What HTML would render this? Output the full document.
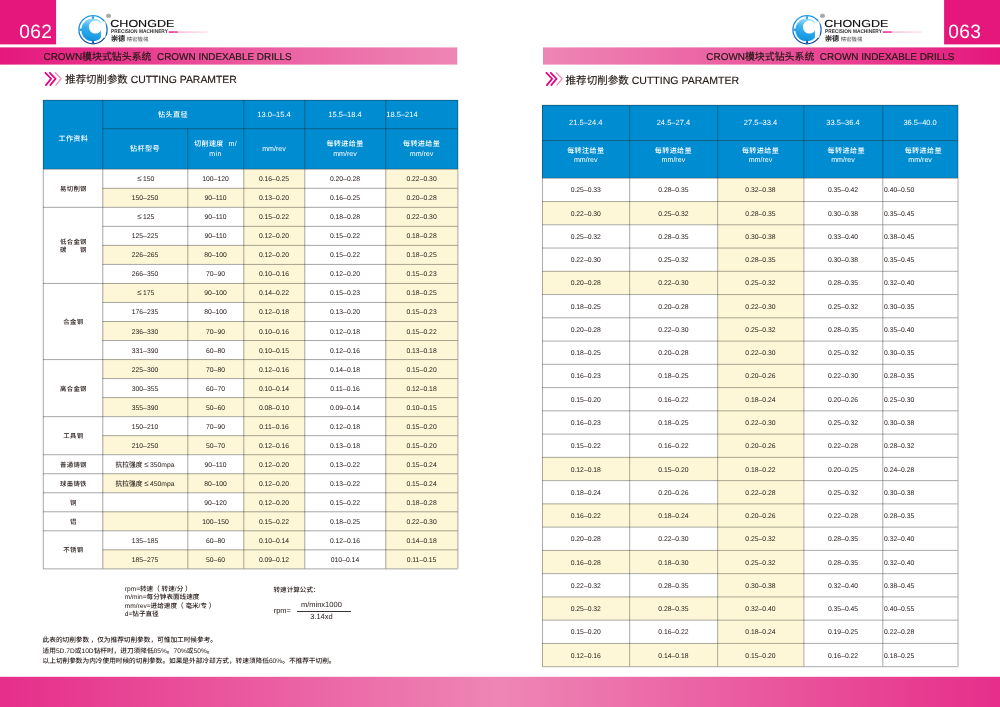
<!DOCTYPE html>
<html lang="zh-CN"><head><meta charset="utf-8"><title>CROWN模块式钻头系统 CROWN INDEXABLE DRILLS</title>
<style>

html,body{margin:0;padding:0;background:#fff;}
body{width:1000px;height:707px;overflow:hidden;position:relative;font-family:"Liberation Sans", "Noto Sans CJK SC", sans-serif;color:#231815;-webkit-text-size-adjust:none;text-rendering:geometricPrecision;}
.abs{position:absolute;}
.bg{z-index:0;pointer-events:none;}
.c{z-index:2;}
.pg{position:absolute;left:0;top:0;width:1000px;height:707px;overflow:hidden;}
.c{position:absolute;display:flex;align-items:center;justify-content:center;text-align:center;white-space:nowrap;box-sizing:border-box;}
.d{font-size:6.8px;line-height:8px;padding-top:3.6px;font-weight:500;}
.le{font-size:8px;line-height:6px;margin-right:1.4px;margin-left:1.6px;display:inline-block;transform:translateY(-1px);}
.h{font-size:7.1px;line-height:10px;color:#fff;}
.h b,.hb{font-weight:500;letter-spacing:0.35px;font-size:7.1px;}
.hn{font-size:7.5px;padding-top:1.6px;}
.hb{padding-top:1.6px;}
.m{font-size:6.4px;line-height:8.4px;font-weight:500;letter-spacing:0.3px;padding-top:3.8px;padding-left:1.3px;}
.ln{stroke:#222;stroke-width:0.4;}
.lr{stroke:#2a2a2a;stroke-width:0.4;}
.num{position:absolute;color:#fff;font-size:19.2px;line-height:20px;letter-spacing:0.4px;}
.band{-webkit-text-stroke:0.18px #231815;position:absolute;font-size:9.93px;line-height:12px;white-space:nowrap;color:#231815;}
.sub{-webkit-text-stroke:0.15px #231815;position:absolute;font-size:10.41px;line-height:12px;white-space:nowrap;color:#231815;}
.note{position:absolute;font-size:6.6px;line-height:8.15px;white-space:nowrap;font-weight:500;}
.foot{position:absolute;font-size:6.66px;line-height:10.4px;white-space:nowrap;font-weight:500;}
.fm{font-size:7.5px;}

</style></head><body><div class="pg">
<svg class="abs" style="left:0;top:0" width="1000" height="707" viewBox="0 0 1000 707"><defs><linearGradient id="gl" x1="0" x2="1"><stop offset="0" stop-color="#e5177d"/><stop offset="0.62" stop-color="#eb63a3"/><stop offset="1" stop-color="#ee86b5"/></linearGradient><linearGradient id="gr" x1="0" x2="1"><stop offset="0" stop-color="#ee86b5"/><stop offset="0.38" stop-color="#eb63a3"/><stop offset="1" stop-color="#e5177d"/></linearGradient><linearGradient id="gf" x1="0" x2="1"><stop offset="0" stop-color="#e62e8a"/><stop offset="0.5" stop-color="#ee86b5"/><stop offset="1" stop-color="#e62e8a"/></linearGradient></defs><rect x="0" y="0" width="56.1" height="44.4" fill="#e5177d"/><rect x="944.1" y="0" width="56" height="44.4" fill="#e5177d"/><rect x="0" y="47.4" width="457.2" height="17.2" fill="url(#gl)"/><rect x="543" y="47.4" width="457" height="17.2" fill="url(#gr)"/><rect x="0" y="676.8" width="1000" height="31" fill="url(#gf)"/></svg>
<div class="num" style="left:19.2px;top:22.6px;">062</div>
<div class="num" style="left:948.2px;top:22.6px;">063</div>
<div class="band" style="left:43.5px;top:51.7px;">CROWN模块式钻头系统&nbsp; CROWN INDEXABLE DRILLS</div>
<div class="band" style="right:45.6px;top:51.7px;">CROWN模块式钻头系统&nbsp; CROWN INDEXABLE DRILLS</div>
<svg class="abs" style="left:42px;top:68px" width="24" height="22" viewBox="42 68 24 22"><path d="M45.4 72.8 L51.1 78.7 L45.9 85.1" fill="none" stroke="#e4007f" stroke-width="1.75" stroke-linecap="round"/><path d="M49.8 72.8 L55.5 78.7 L50.3 85.1" fill="none" stroke="#e4007f" stroke-width="1.75" stroke-linecap="round"/><path d="M55.4 72.8 L61.1 78.7 L55.9 85.1" fill="none" stroke="#f092bd" stroke-width="1.35" stroke-linecap="round"/></svg>
<svg class="abs" style="left:542.6px;top:68px" width="24" height="22" viewBox="42 68 24 22"><path d="M45.4 72.8 L51.1 78.7 L45.9 85.1" fill="none" stroke="#e4007f" stroke-width="1.75" stroke-linecap="round"/><path d="M49.8 72.8 L55.5 78.7 L50.3 85.1" fill="none" stroke="#e4007f" stroke-width="1.75" stroke-linecap="round"/><path d="M55.4 72.8 L61.1 78.7 L55.9 85.1" fill="none" stroke="#f092bd" stroke-width="1.35" stroke-linecap="round"/></svg>
<div class="sub" style="left:65.3px;top:74.9px;">推荐切削参数 CUTTING PARAMTER</div>
<div class="sub" style="left:565.6px;top:74.9px;font-size:10.54px;">推荐切削参数 CUTTING PARAMTER</div>
<svg class="abs" style="left:70px;top:0px" width="150" height="47" viewBox="70 0 150 47"><defs><linearGradient id="rga" x1="0" y1="0" x2="0.3" y2="1"><stop offset="0" stop-color="#2aa4ea"/><stop offset="0.55" stop-color="#0d7fd2"/><stop offset="1" stop-color="#0b459c"/></linearGradient><linearGradient id="cga" x1="0.6" y1="0" x2="0.4" y2="1"><stop offset="0" stop-color="#a6e0fa"/><stop offset="0.4" stop-color="#3cb2ee"/><stop offset="1" stop-color="#0a92de"/></linearGradient><linearGradient id="pla" x1="0" x2="1"><stop offset="0" stop-color="#ee7fb4"/><stop offset="1" stop-color="#f9d3e5"/></linearGradient></defs><circle cx="93" cy="29.7" r="14.1" fill="none" stroke="url(#rga)" stroke-width="1.25"/><circle cx="92.6" cy="29.9" r="11.3" fill="url(#cga)"/><path d="M100.9 21.5 H105.5 V37.6 H100.9 Z" fill="#fff"/><circle cx="95.4" cy="27.1" r="6.5" fill="#fff"/><path d="M91.6 16.2 L94.4 16.2 L93.6 19.2 L92.4 19.2 Z" fill="#2aa4ea"/><path d="M79.6 28.4 L79.6 31 L82.4 30.2 L82.4 29.2 Z" fill="#1c8fde"/><path d="M91.9 43.2 L94.3 43.2 L93.7 40.6 L92.5 40.6 Z" fill="#0b52aa"/><text x="106.2" y="17.8" font-family='"Liberation Sans", sans-serif' font-size="6.2" font-weight="bold" fill="#333">®</text><text x="110.3" y="27.1" font-family='"Liberation Sans", sans-serif' font-size="10.2" fill="#111" stroke="#111" stroke-width="0.15" textLength="64" lengthAdjust="spacingAndGlyphs">CHONGDE</text><text x="111.1" y="33.1" font-family='"Liberation Sans", sans-serif' font-size="5.4" font-weight="bold" fill="#333" textLength="56.8" lengthAdjust="spacingAndGlyphs">PRECISION MACHINERY</text><rect x="168.7" y="31.4" width="9" height="1.3" fill="#e4007f"/><rect x="173.6" y="31.4" width="1.6" height="1.3" fill="#f08cba"/><rect x="177.7" y="31.65" width="30.8" height="0.8" fill="url(#pla)"/><text x="110.9" y="41.2" font-family='"Liberation Sans", "Noto Sans CJK SC", sans-serif' font-size="7.1" font-weight="bold" fill="#222">崇德</text><text x="126.8" y="40.9" font-family='"Liberation Sans", "Noto Sans CJK SC", sans-serif' font-size="5.3" fill="#555" textLength="21.5" lengthAdjust="spacingAndGlyphs">精密機械</text></svg>
<svg class="abs" style="left:783.5px;top:0px" width="150" height="47" viewBox="70 0 150 47"><defs><linearGradient id="rgb" x1="0" y1="0" x2="0.3" y2="1"><stop offset="0" stop-color="#2aa4ea"/><stop offset="0.55" stop-color="#0d7fd2"/><stop offset="1" stop-color="#0b459c"/></linearGradient><linearGradient id="cgb" x1="0.6" y1="0" x2="0.4" y2="1"><stop offset="0" stop-color="#a6e0fa"/><stop offset="0.4" stop-color="#3cb2ee"/><stop offset="1" stop-color="#0a92de"/></linearGradient><linearGradient id="plb" x1="0" x2="1"><stop offset="0" stop-color="#ee7fb4"/><stop offset="1" stop-color="#f9d3e5"/></linearGradient></defs><circle cx="93" cy="29.7" r="14.1" fill="none" stroke="url(#rgb)" stroke-width="1.25"/><circle cx="92.6" cy="29.9" r="11.3" fill="url(#cgb)"/><path d="M100.9 21.5 H105.5 V37.6 H100.9 Z" fill="#fff"/><circle cx="95.4" cy="27.1" r="6.5" fill="#fff"/><path d="M91.6 16.2 L94.4 16.2 L93.6 19.2 L92.4 19.2 Z" fill="#2aa4ea"/><path d="M79.6 28.4 L79.6 31 L82.4 30.2 L82.4 29.2 Z" fill="#1c8fde"/><path d="M91.9 43.2 L94.3 43.2 L93.7 40.6 L92.5 40.6 Z" fill="#0b52aa"/><text x="106.2" y="17.8" font-family='"Liberation Sans", sans-serif' font-size="6.2" font-weight="bold" fill="#333">®</text><text x="110.3" y="27.1" font-family='"Liberation Sans", sans-serif' font-size="10.2" fill="#111" stroke="#111" stroke-width="0.15" textLength="64" lengthAdjust="spacingAndGlyphs">CHONGDE</text><text x="111.1" y="33.1" font-family='"Liberation Sans", sans-serif' font-size="5.4" font-weight="bold" fill="#333" textLength="56.8" lengthAdjust="spacingAndGlyphs">PRECISION MACHINERY</text><rect x="168.7" y="31.4" width="9" height="1.3" fill="#e4007f"/><rect x="173.6" y="31.4" width="1.6" height="1.3" fill="#f08cba"/><rect x="177.7" y="31.65" width="30.8" height="0.8" fill="url(#plb)"/><text x="110.9" y="41.2" font-family='"Liberation Sans", "Noto Sans CJK SC", sans-serif' font-size="7.1" font-weight="bold" fill="#222">崇德</text><text x="126.8" y="40.9" font-family='"Liberation Sans", "Noto Sans CJK SC", sans-serif' font-size="5.3" fill="#555" textLength="21.5" lengthAdjust="spacingAndGlyphs">精密機械</text></svg>
<svg class="abs" style="left:0;top:0" width="1000" height="707" viewBox="0 0 1000 707"><rect x="243.50" y="169.00" width="61.00" height="399.60" fill="#fef7d7"/><rect x="385.50" y="169.00" width="72.10" height="399.60" fill="#fef7d7"/><rect x="102.50" y="188.03" width="141.00" height="19.03" fill="#fef7d7"/><rect x="102.50" y="245.11" width="141.00" height="19.03" fill="#fef7d7"/><rect x="102.50" y="283.17" width="141.00" height="19.03" fill="#fef7d7"/><rect x="102.50" y="321.23" width="141.00" height="19.03" fill="#fef7d7"/><rect x="102.50" y="359.29" width="141.00" height="19.03" fill="#fef7d7"/><rect x="102.50" y="397.34" width="141.00" height="19.03" fill="#fef7d7"/><rect x="102.50" y="435.40" width="141.00" height="19.03" fill="#fef7d7"/><rect x="102.50" y="473.46" width="141.00" height="19.03" fill="#fef7d7"/><rect x="102.50" y="511.51" width="141.00" height="19.03" fill="#fef7d7"/><rect x="102.50" y="549.57" width="141.00" height="19.03" fill="#fef7d7"/><rect x="717.40" y="178.00" width="86.20" height="488.40" fill="#fef7d7"/><rect x="542.20" y="201.26" width="175.20" height="23.26" fill="#fef7d7"/><rect x="542.20" y="271.03" width="175.20" height="23.26" fill="#fef7d7"/><rect x="542.20" y="457.09" width="175.20" height="23.26" fill="#fef7d7"/><rect x="542.20" y="503.60" width="175.20" height="23.26" fill="#fef7d7"/><rect x="542.20" y="550.11" width="175.20" height="23.26" fill="#fef7d7"/><rect x="542.20" y="596.63" width="175.20" height="23.26" fill="#fef7d7"/><rect x="542.20" y="643.14" width="175.20" height="23.26" fill="#fef7d7"/></svg>
<div class="abs" style="left:43px;top:100px;width:414.6px;height:69px;background:#008cd0"></div>
<div class="c h hb" style="left:43.00px;top:100.00px;width:59.50px;height:69.00px;padding-top:9.6px;padding-left:1.2px;">工作资料</div>
<div class="c h hb" style="left:102.50px;top:100.00px;width:141.00px;height:28.40px;">钻头直径</div>
<div class="c h hn" style="left:243.50px;top:100.00px;width:61.00px;height:28.40px;">13.0–15.4</div>
<div class="c h hn" style="left:304.50px;top:100.00px;width:81.00px;height:28.40px;">15.5–18.4</div>
<div class="c h hn" style="left:385.50px;top:100.00px;width:72.10px;height:28.40px;justify-content:flex-start;padding-left:0.8px;">18.5–214</div>
<div class="c h hb" style="left:102.50px;top:128.40px;width:85.00px;height:40.60px;">钻杆型号</div>
<div class="c h hb" style="left:187.50px;top:128.40px;width:56.00px;height:40.60px;">切削速度&nbsp; m/<br>min</div>
<div class="c h" style="left:243.50px;top:128.40px;width:61.00px;height:40.60px;">mm/rev</div>
<div class="c h" style="left:304.50px;top:128.40px;width:81.00px;height:40.60px;padding-top:1.2px;"><span><b>每转进给量</b><br>mm/rev</span></div>
<div class="c h" style="left:385.50px;top:128.40px;width:72.10px;height:40.60px;padding-top:1.2px;"><span><b>每转进给量</b><br>mm/rev</span></div>
<div class="c m" style="left:43.00px;top:169.00px;width:59.50px;height:38.06px;">易切削钢</div>
<div class="c d" style="left:102.50px;top:169.00px;width:85.00px;height:19.03px;"><span class="le">≤</span>150</div>
<div class="c d" style="left:187.50px;top:169.00px;width:56.00px;height:19.03px;">100–120</div>
<div class="c d" style="left:243.50px;top:169.00px;width:61.00px;height:19.03px;">0.16–0.25</div>
<div class="c d" style="left:304.50px;top:169.00px;width:81.00px;height:19.03px;">0.20–0.28</div>
<div class="c d" style="left:385.50px;top:169.00px;width:72.10px;height:19.03px;">0.22–0.30</div>
<div class="c d" style="left:102.50px;top:188.03px;width:85.00px;height:19.03px;">150–250</div>
<div class="c d" style="left:187.50px;top:188.03px;width:56.00px;height:19.03px;">90–110</div>
<div class="c d" style="left:243.50px;top:188.03px;width:61.00px;height:19.03px;">0.13–0.20</div>
<div class="c d" style="left:304.50px;top:188.03px;width:81.00px;height:19.03px;">0.16–0.25</div>
<div class="c d" style="left:385.50px;top:188.03px;width:72.10px;height:19.03px;">0.20–0.28</div>
<div class="c m" style="left:43.00px;top:207.06px;width:59.50px;height:76.11px;">低合金钢<br>碳&emsp;&emsp;钢</div>
<div class="c d" style="left:102.50px;top:207.06px;width:85.00px;height:19.03px;"><span class="le">≤</span>125</div>
<div class="c d" style="left:187.50px;top:207.06px;width:56.00px;height:19.03px;">90–110</div>
<div class="c d" style="left:243.50px;top:207.06px;width:61.00px;height:19.03px;">0.15–0.22</div>
<div class="c d" style="left:304.50px;top:207.06px;width:81.00px;height:19.03px;">0.18–0.28</div>
<div class="c d" style="left:385.50px;top:207.06px;width:72.10px;height:19.03px;">0.22–0.30</div>
<div class="c d" style="left:102.50px;top:226.09px;width:85.00px;height:19.03px;">125–225</div>
<div class="c d" style="left:187.50px;top:226.09px;width:56.00px;height:19.03px;">90–110</div>
<div class="c d" style="left:243.50px;top:226.09px;width:61.00px;height:19.03px;">0.12–0.20</div>
<div class="c d" style="left:304.50px;top:226.09px;width:81.00px;height:19.03px;">0.15–0.22</div>
<div class="c d" style="left:385.50px;top:226.09px;width:72.10px;height:19.03px;">0.18–0.28</div>
<div class="c d" style="left:102.50px;top:245.11px;width:85.00px;height:19.03px;">226–265</div>
<div class="c d" style="left:187.50px;top:245.11px;width:56.00px;height:19.03px;">80–100</div>
<div class="c d" style="left:243.50px;top:245.11px;width:61.00px;height:19.03px;">0.12–0.20</div>
<div class="c d" style="left:304.50px;top:245.11px;width:81.00px;height:19.03px;">0.15–0.22</div>
<div class="c d" style="left:385.50px;top:245.11px;width:72.10px;height:19.03px;">0.18–0.25</div>
<div class="c d" style="left:102.50px;top:264.14px;width:85.00px;height:19.03px;">266–350</div>
<div class="c d" style="left:187.50px;top:264.14px;width:56.00px;height:19.03px;">70–90</div>
<div class="c d" style="left:243.50px;top:264.14px;width:61.00px;height:19.03px;">0.10–0.16</div>
<div class="c d" style="left:304.50px;top:264.14px;width:81.00px;height:19.03px;">0.12–0.20</div>
<div class="c d" style="left:385.50px;top:264.14px;width:72.10px;height:19.03px;">0.15–0.23</div>
<div class="c m" style="left:43.00px;top:283.17px;width:59.50px;height:76.11px;">合金钢</div>
<div class="c d" style="left:102.50px;top:283.17px;width:85.00px;height:19.03px;"><span class="le">≤</span>175</div>
<div class="c d" style="left:187.50px;top:283.17px;width:56.00px;height:19.03px;">90–100</div>
<div class="c d" style="left:243.50px;top:283.17px;width:61.00px;height:19.03px;">0.14–0.22</div>
<div class="c d" style="left:304.50px;top:283.17px;width:81.00px;height:19.03px;">0.15–0.23</div>
<div class="c d" style="left:385.50px;top:283.17px;width:72.10px;height:19.03px;">0.18–0.25</div>
<div class="c d" style="left:102.50px;top:302.20px;width:85.00px;height:19.03px;">176–235</div>
<div class="c d" style="left:187.50px;top:302.20px;width:56.00px;height:19.03px;">80–100</div>
<div class="c d" style="left:243.50px;top:302.20px;width:61.00px;height:19.03px;">0.12–0.18</div>
<div class="c d" style="left:304.50px;top:302.20px;width:81.00px;height:19.03px;">0.13–0.20</div>
<div class="c d" style="left:385.50px;top:302.20px;width:72.10px;height:19.03px;">0.15–0.23</div>
<div class="c d" style="left:102.50px;top:321.23px;width:85.00px;height:19.03px;">236–330</div>
<div class="c d" style="left:187.50px;top:321.23px;width:56.00px;height:19.03px;">70–90</div>
<div class="c d" style="left:243.50px;top:321.23px;width:61.00px;height:19.03px;">0.10–0.16</div>
<div class="c d" style="left:304.50px;top:321.23px;width:81.00px;height:19.03px;">0.12–0.18</div>
<div class="c d" style="left:385.50px;top:321.23px;width:72.10px;height:19.03px;">0.15–0.22</div>
<div class="c d" style="left:102.50px;top:340.26px;width:85.00px;height:19.03px;">331–390</div>
<div class="c d" style="left:187.50px;top:340.26px;width:56.00px;height:19.03px;">60–80</div>
<div class="c d" style="left:243.50px;top:340.26px;width:61.00px;height:19.03px;">0.10–0.15</div>
<div class="c d" style="left:304.50px;top:340.26px;width:81.00px;height:19.03px;">0.12–0.16</div>
<div class="c d" style="left:385.50px;top:340.26px;width:72.10px;height:19.03px;">0.13–0.18</div>
<div class="c m" style="left:43.00px;top:359.29px;width:59.50px;height:57.09px;">高合金钢</div>
<div class="c d" style="left:102.50px;top:359.29px;width:85.00px;height:19.03px;">225–300</div>
<div class="c d" style="left:187.50px;top:359.29px;width:56.00px;height:19.03px;">70–80</div>
<div class="c d" style="left:243.50px;top:359.29px;width:61.00px;height:19.03px;">0.12–0.16</div>
<div class="c d" style="left:304.50px;top:359.29px;width:81.00px;height:19.03px;">0.14–0.18</div>
<div class="c d" style="left:385.50px;top:359.29px;width:72.10px;height:19.03px;">0.15–0.20</div>
<div class="c d" style="left:102.50px;top:378.31px;width:85.00px;height:19.03px;">300–355</div>
<div class="c d" style="left:187.50px;top:378.31px;width:56.00px;height:19.03px;">60–70</div>
<div class="c d" style="left:243.50px;top:378.31px;width:61.00px;height:19.03px;">0.10–0.14</div>
<div class="c d" style="left:304.50px;top:378.31px;width:81.00px;height:19.03px;">0.11–0.16</div>
<div class="c d" style="left:385.50px;top:378.31px;width:72.10px;height:19.03px;">0.12–0.18</div>
<div class="c d" style="left:102.50px;top:397.34px;width:85.00px;height:19.03px;">355–390</div>
<div class="c d" style="left:187.50px;top:397.34px;width:56.00px;height:19.03px;">50–60</div>
<div class="c d" style="left:243.50px;top:397.34px;width:61.00px;height:19.03px;">0.08–0.10</div>
<div class="c d" style="left:304.50px;top:397.34px;width:81.00px;height:19.03px;">0.09–0.14</div>
<div class="c d" style="left:385.50px;top:397.34px;width:72.10px;height:19.03px;">0.10–0.15</div>
<div class="c m" style="left:43.00px;top:416.37px;width:59.50px;height:38.06px;">工具钢</div>
<div class="c d" style="left:102.50px;top:416.37px;width:85.00px;height:19.03px;">150–210</div>
<div class="c d" style="left:187.50px;top:416.37px;width:56.00px;height:19.03px;">70–90</div>
<div class="c d" style="left:243.50px;top:416.37px;width:61.00px;height:19.03px;">0.11–0.16</div>
<div class="c d" style="left:304.50px;top:416.37px;width:81.00px;height:19.03px;">0.12–0.18</div>
<div class="c d" style="left:385.50px;top:416.37px;width:72.10px;height:19.03px;">0.15–0.20</div>
<div class="c d" style="left:102.50px;top:435.40px;width:85.00px;height:19.03px;">210–250</div>
<div class="c d" style="left:187.50px;top:435.40px;width:56.00px;height:19.03px;">50–70</div>
<div class="c d" style="left:243.50px;top:435.40px;width:61.00px;height:19.03px;">0.12–0.16</div>
<div class="c d" style="left:304.50px;top:435.40px;width:81.00px;height:19.03px;">0.13–0.18</div>
<div class="c d" style="left:385.50px;top:435.40px;width:72.10px;height:19.03px;">0.15–0.20</div>
<div class="c m" style="left:43.00px;top:454.43px;width:59.50px;height:19.03px;">普通铸钢</div>
<div class="c d" style="left:102.50px;top:454.43px;width:85.00px;height:19.03px;">抗拉强度<span class="le">≤</span>350mpa</div>
<div class="c d" style="left:187.50px;top:454.43px;width:56.00px;height:19.03px;">90–110</div>
<div class="c d" style="left:243.50px;top:454.43px;width:61.00px;height:19.03px;">0.12–0.20</div>
<div class="c d" style="left:304.50px;top:454.43px;width:81.00px;height:19.03px;">0.13–0.22</div>
<div class="c d" style="left:385.50px;top:454.43px;width:72.10px;height:19.03px;">0.15–0.24</div>
<div class="c m" style="left:43.00px;top:473.46px;width:59.50px;height:19.03px;">球墨铸铁</div>
<div class="c d" style="left:102.50px;top:473.46px;width:85.00px;height:19.03px;">抗拉强度<span class="le">≤</span>450mpa</div>
<div class="c d" style="left:187.50px;top:473.46px;width:56.00px;height:19.03px;">80–100</div>
<div class="c d" style="left:243.50px;top:473.46px;width:61.00px;height:19.03px;">0.12–0.20</div>
<div class="c d" style="left:304.50px;top:473.46px;width:81.00px;height:19.03px;">0.13–0.22</div>
<div class="c d" style="left:385.50px;top:473.46px;width:72.10px;height:19.03px;">0.15–0.24</div>
<div class="c m" style="left:43.00px;top:492.49px;width:59.50px;height:19.03px;">铜</div>
<div class="c d" style="left:102.50px;top:492.49px;width:85.00px;height:19.03px;"></div>
<div class="c d" style="left:187.50px;top:492.49px;width:56.00px;height:19.03px;">90–120</div>
<div class="c d" style="left:243.50px;top:492.49px;width:61.00px;height:19.03px;">0.12–0.20</div>
<div class="c d" style="left:304.50px;top:492.49px;width:81.00px;height:19.03px;">0.15–0.22</div>
<div class="c d" style="left:385.50px;top:492.49px;width:72.10px;height:19.03px;">0.18–0.28</div>
<div class="c m" style="left:43.00px;top:511.51px;width:59.50px;height:19.03px;">铝</div>
<div class="c d" style="left:102.50px;top:511.51px;width:85.00px;height:19.03px;"></div>
<div class="c d" style="left:187.50px;top:511.51px;width:56.00px;height:19.03px;">100–150</div>
<div class="c d" style="left:243.50px;top:511.51px;width:61.00px;height:19.03px;">0.15–0.22</div>
<div class="c d" style="left:304.50px;top:511.51px;width:81.00px;height:19.03px;">0.18–0.25</div>
<div class="c d" style="left:385.50px;top:511.51px;width:72.10px;height:19.03px;">0.22–0.30</div>
<div class="c m" style="left:43.00px;top:530.54px;width:59.50px;height:38.06px;">不锈钢</div>
<div class="c d" style="left:102.50px;top:530.54px;width:85.00px;height:19.03px;">135–185</div>
<div class="c d" style="left:187.50px;top:530.54px;width:56.00px;height:19.03px;">60–80</div>
<div class="c d" style="left:243.50px;top:530.54px;width:61.00px;height:19.03px;">0.10–0.14</div>
<div class="c d" style="left:304.50px;top:530.54px;width:81.00px;height:19.03px;">0.12–0.16</div>
<div class="c d" style="left:385.50px;top:530.54px;width:72.10px;height:19.03px;">0.14–0.18</div>
<div class="c d" style="left:102.50px;top:549.57px;width:85.00px;height:19.03px;">185–275</div>
<div class="c d" style="left:187.50px;top:549.57px;width:56.00px;height:19.03px;">50–60</div>
<div class="c d" style="left:243.50px;top:549.57px;width:61.00px;height:19.03px;">0.09–0.12</div>
<div class="c d" style="left:304.50px;top:549.57px;width:81.00px;height:19.03px;">010–0.14</div>
<div class="c d" style="left:385.50px;top:549.57px;width:72.10px;height:19.03px;">0.11–0.15</div>
<svg class="abs" style="left:0;top:0" width="1000" height="707" viewBox="0 0 1000 707">
<line class="ln" x1="43.00" y1="100.28" x2="457.60" y2="100.28"/>
<line class="ln" x1="102.50" y1="128.68" x2="457.60" y2="128.68"/>
<line class="ln" x1="43.00" y1="169.28" x2="457.60" y2="169.28"/>
<line class="ln" x1="102.50" y1="188.31" x2="457.60" y2="188.31"/>
<line class="ln" x1="43.00" y1="207.34" x2="457.60" y2="207.34"/>
<line class="ln" x1="102.50" y1="226.37" x2="457.60" y2="226.37"/>
<line class="ln" x1="102.50" y1="245.39" x2="457.60" y2="245.39"/>
<line class="ln" x1="102.50" y1="264.42" x2="457.60" y2="264.42"/>
<line class="ln" x1="43.00" y1="283.45" x2="457.60" y2="283.45"/>
<line class="ln" x1="102.50" y1="302.48" x2="457.60" y2="302.48"/>
<line class="ln" x1="102.50" y1="321.51" x2="457.60" y2="321.51"/>
<line class="ln" x1="102.50" y1="340.54" x2="457.60" y2="340.54"/>
<line class="ln" x1="43.00" y1="359.57" x2="457.60" y2="359.57"/>
<line class="ln" x1="102.50" y1="378.59" x2="457.60" y2="378.59"/>
<line class="ln" x1="102.50" y1="397.62" x2="457.60" y2="397.62"/>
<line class="ln" x1="43.00" y1="416.65" x2="457.60" y2="416.65"/>
<line class="ln" x1="102.50" y1="435.68" x2="457.60" y2="435.68"/>
<line class="ln" x1="43.00" y1="454.71" x2="457.60" y2="454.71"/>
<line class="ln" x1="43.00" y1="473.74" x2="457.60" y2="473.74"/>
<line class="ln" x1="43.00" y1="492.77" x2="457.60" y2="492.77"/>
<line class="ln" x1="43.00" y1="511.79" x2="457.60" y2="511.79"/>
<line class="ln" x1="43.00" y1="530.82" x2="457.60" y2="530.82"/>
<line class="ln" x1="102.50" y1="549.85" x2="457.60" y2="549.85"/>
<line class="ln" x1="43.00" y1="568.88" x2="457.60" y2="568.88"/>
<line class="ln" x1="43.30" y1="100.00" x2="43.30" y2="568.60"/>
<line class="ln" x1="102.80" y1="100.00" x2="102.80" y2="568.60"/>
<line class="ln" x1="187.80" y1="128.40" x2="187.80" y2="568.60"/>
<line class="ln" x1="243.80" y1="100.00" x2="243.80" y2="568.60"/>
<line class="ln" x1="304.80" y1="100.00" x2="304.80" y2="568.60"/>
<line class="ln" x1="385.80" y1="100.00" x2="385.80" y2="568.60"/>
<line class="ln" x1="457.90" y1="100.00" x2="457.90" y2="568.60"/>
</svg>
<div class="note" style="left:124.8px;top:586.2px;line-height:8.2px;">rpm=转速（ 转速/分 ）<br>m/min=每分钟表面线速度<br>mm/rev=进给速度（ 毫米/专 ）<br>d=钻子直径</div>
<div class="note" style="left:273.5px;top:587.3px;font-weight:500;font-size:6.6px;">转速计算公式：</div>
<div class="note fm" style="left:273.7px;top:607px;">rpm=</div>
<div class="note fm" style="left:291.4px;top:600.9px;width:60px;text-align:center;">m/minx1000</div>
<div class="abs" style="left:296.8px;top:610.5px;width:54px;height:1px;background:#3a3532"></div>
<div class="note fm" style="left:291.4px;top:613.2px;width:60px;text-align:center;">3.14xd</div>
<div class="foot" style="left:42.6px;top:636.4px;">此表的切削参数&thinsp;，仅为推荐切削参数，可惟加工时候参考。<br>适用5D.7D或10D钻杆时，进刀须降低85%。70%或50%。<br>以上切削参数为内冷使用时候的切削参数。如果是外部冷却方式，转速须降低60%。不推荐干切削。</div>
<div class="abs" style="left:542.2px;top:105px;width:415.5px;height:73px;background:#008cd0"></div>
<div class="c h hn" style="left:542.20px;top:105.00px;width:87.20px;height:35.30px;">21.5–24.4</div>
<div class="c h" style="left:542.20px;top:140.30px;width:87.20px;height:37.70px;align-items:flex-start;padding-top:6.6px;line-height:9.2px;"><span><b>每转注给量</b><br>mm/rev</span></div>
<div class="c h hn" style="left:629.40px;top:105.00px;width:88.00px;height:35.30px;">24.5–27.4</div>
<div class="c h" style="left:629.40px;top:140.30px;width:88.00px;height:37.70px;align-items:flex-start;padding-top:6.6px;line-height:9.2px;"><span><b>每转进给量</b><br>mm/rev</span></div>
<div class="c h hn" style="left:717.40px;top:105.00px;width:86.20px;height:35.30px;">27.5–33.4</div>
<div class="c h" style="left:717.40px;top:140.30px;width:86.20px;height:37.70px;align-items:flex-start;padding-top:6.6px;line-height:9.2px;"><span><b>每转进给量</b><br>mm/rev</span></div>
<div class="c h hn" style="left:803.60px;top:105.00px;width:78.90px;height:35.30px;">33.5–36.4</div>
<div class="c h" style="left:803.60px;top:140.30px;width:78.90px;height:37.70px;align-items:flex-start;padding-top:6.6px;line-height:9.2px;"><span><b style="position:relative;left:3.2px">每转进给量</b><br>mm/rev</span></div>
<div class="c h hn" style="left:882.50px;top:105.00px;width:75.20px;height:35.30px;">36.5–40.0</div>
<div class="c h" style="left:882.50px;top:140.30px;width:75.20px;height:37.70px;align-items:flex-start;padding-top:6.6px;line-height:9.2px;"><span><b style="position:relative;left:3.2px">每转进给量</b><br>mm/rev</span></div>
<div class="c d" style="left:542.20px;top:178.00px;width:87.20px;height:23.26px;">0.25–0.33</div>
<div class="c d" style="left:629.40px;top:178.00px;width:88.00px;height:23.26px;">0.28–0.35</div>
<div class="c d" style="left:717.40px;top:178.00px;width:86.20px;height:23.26px;">0.32–0.38</div>
<div class="c d" style="left:803.60px;top:178.00px;width:78.90px;height:23.26px;">0.35–0.42</div>
<div class="c d" style="left:882.50px;top:178.00px;width:75.20px;height:23.26px;justify-content:flex-start;padding-left:1.5px;">0.40–0.50</div>
<div class="c d" style="left:542.20px;top:201.26px;width:87.20px;height:23.26px;">0.22–0.30</div>
<div class="c d" style="left:629.40px;top:201.26px;width:88.00px;height:23.26px;">0.25–0.32</div>
<div class="c d" style="left:717.40px;top:201.26px;width:86.20px;height:23.26px;">0.28–0.35</div>
<div class="c d" style="left:803.60px;top:201.26px;width:78.90px;height:23.26px;">0.30–0.38</div>
<div class="c d" style="left:882.50px;top:201.26px;width:75.20px;height:23.26px;justify-content:flex-start;padding-left:1.5px;">0.35–0.45</div>
<div class="c d" style="left:542.20px;top:224.51px;width:87.20px;height:23.26px;">0.25–0.32</div>
<div class="c d" style="left:629.40px;top:224.51px;width:88.00px;height:23.26px;">0.28–0.35</div>
<div class="c d" style="left:717.40px;top:224.51px;width:86.20px;height:23.26px;">0.30–0.38</div>
<div class="c d" style="left:803.60px;top:224.51px;width:78.90px;height:23.26px;">0.33–0.40</div>
<div class="c d" style="left:882.50px;top:224.51px;width:75.20px;height:23.26px;justify-content:flex-start;padding-left:1.5px;">0.38–0.45</div>
<div class="c d" style="left:542.20px;top:247.77px;width:87.20px;height:23.26px;">0.22–0.30</div>
<div class="c d" style="left:629.40px;top:247.77px;width:88.00px;height:23.26px;">0.25–0.32</div>
<div class="c d" style="left:717.40px;top:247.77px;width:86.20px;height:23.26px;">0.28–0.35</div>
<div class="c d" style="left:803.60px;top:247.77px;width:78.90px;height:23.26px;">0.30–0.38</div>
<div class="c d" style="left:882.50px;top:247.77px;width:75.20px;height:23.26px;justify-content:flex-start;padding-left:1.5px;">0.35–0.45</div>
<div class="c d" style="left:542.20px;top:271.03px;width:87.20px;height:23.26px;">0.20–0.28</div>
<div class="c d" style="left:629.40px;top:271.03px;width:88.00px;height:23.26px;">0.22–0.30</div>
<div class="c d" style="left:717.40px;top:271.03px;width:86.20px;height:23.26px;">0.25–0.32</div>
<div class="c d" style="left:803.60px;top:271.03px;width:78.90px;height:23.26px;">0.28–0.35</div>
<div class="c d" style="left:882.50px;top:271.03px;width:75.20px;height:23.26px;justify-content:flex-start;padding-left:1.5px;">0.32–0.40</div>
<div class="c d" style="left:542.20px;top:294.29px;width:87.20px;height:23.26px;">0.18–0.25</div>
<div class="c d" style="left:629.40px;top:294.29px;width:88.00px;height:23.26px;">0.20–0.28</div>
<div class="c d" style="left:717.40px;top:294.29px;width:86.20px;height:23.26px;">0.22–0.30</div>
<div class="c d" style="left:803.60px;top:294.29px;width:78.90px;height:23.26px;">0.25–0.32</div>
<div class="c d" style="left:882.50px;top:294.29px;width:75.20px;height:23.26px;justify-content:flex-start;padding-left:1.5px;">0.30–0.35</div>
<div class="c d" style="left:542.20px;top:317.54px;width:87.20px;height:23.26px;">0.20–0.28</div>
<div class="c d" style="left:629.40px;top:317.54px;width:88.00px;height:23.26px;">0.22–0.30</div>
<div class="c d" style="left:717.40px;top:317.54px;width:86.20px;height:23.26px;">0.25–0.32</div>
<div class="c d" style="left:803.60px;top:317.54px;width:78.90px;height:23.26px;">0.28–0.35</div>
<div class="c d" style="left:882.50px;top:317.54px;width:75.20px;height:23.26px;justify-content:flex-start;padding-left:1.5px;">0.35–0.40</div>
<div class="c d" style="left:542.20px;top:340.80px;width:87.20px;height:23.26px;">0.18–0.25</div>
<div class="c d" style="left:629.40px;top:340.80px;width:88.00px;height:23.26px;">0.20–0.28</div>
<div class="c d" style="left:717.40px;top:340.80px;width:86.20px;height:23.26px;">0.22–0.30</div>
<div class="c d" style="left:803.60px;top:340.80px;width:78.90px;height:23.26px;">0.25–0.32</div>
<div class="c d" style="left:882.50px;top:340.80px;width:75.20px;height:23.26px;justify-content:flex-start;padding-left:1.5px;">0.30–0.35</div>
<div class="c d" style="left:542.20px;top:364.06px;width:87.20px;height:23.26px;">0.16–0.23</div>
<div class="c d" style="left:629.40px;top:364.06px;width:88.00px;height:23.26px;">0.18–0.25</div>
<div class="c d" style="left:717.40px;top:364.06px;width:86.20px;height:23.26px;">0.20–0.26</div>
<div class="c d" style="left:803.60px;top:364.06px;width:78.90px;height:23.26px;">0.22–0.30</div>
<div class="c d" style="left:882.50px;top:364.06px;width:75.20px;height:23.26px;justify-content:flex-start;padding-left:1.5px;">0.28–0.35</div>
<div class="c d" style="left:542.20px;top:387.31px;width:87.20px;height:23.26px;">0.15–0.20</div>
<div class="c d" style="left:629.40px;top:387.31px;width:88.00px;height:23.26px;">0.16–0.22</div>
<div class="c d" style="left:717.40px;top:387.31px;width:86.20px;height:23.26px;">0.18–0.24</div>
<div class="c d" style="left:803.60px;top:387.31px;width:78.90px;height:23.26px;">0.20–0.26</div>
<div class="c d" style="left:882.50px;top:387.31px;width:75.20px;height:23.26px;justify-content:flex-start;padding-left:1.5px;">0.25–0.30</div>
<div class="c d" style="left:542.20px;top:410.57px;width:87.20px;height:23.26px;">0.16–0.23</div>
<div class="c d" style="left:629.40px;top:410.57px;width:88.00px;height:23.26px;">0.18–0.25</div>
<div class="c d" style="left:717.40px;top:410.57px;width:86.20px;height:23.26px;">0.22–0.30</div>
<div class="c d" style="left:803.60px;top:410.57px;width:78.90px;height:23.26px;">0.25–0.32</div>
<div class="c d" style="left:882.50px;top:410.57px;width:75.20px;height:23.26px;justify-content:flex-start;padding-left:1.5px;">0.30–0.38</div>
<div class="c d" style="left:542.20px;top:433.83px;width:87.20px;height:23.26px;">0.15–0.22</div>
<div class="c d" style="left:629.40px;top:433.83px;width:88.00px;height:23.26px;">0.16–0.22</div>
<div class="c d" style="left:717.40px;top:433.83px;width:86.20px;height:23.26px;">0.20–0.26</div>
<div class="c d" style="left:803.60px;top:433.83px;width:78.90px;height:23.26px;">0.22–0.28</div>
<div class="c d" style="left:882.50px;top:433.83px;width:75.20px;height:23.26px;justify-content:flex-start;padding-left:1.5px;">0.28–0.32</div>
<div class="c d" style="left:542.20px;top:457.09px;width:87.20px;height:23.26px;">0.12–0.18</div>
<div class="c d" style="left:629.40px;top:457.09px;width:88.00px;height:23.26px;">0.15–0.20</div>
<div class="c d" style="left:717.40px;top:457.09px;width:86.20px;height:23.26px;">0.18–0.22</div>
<div class="c d" style="left:803.60px;top:457.09px;width:78.90px;height:23.26px;">0.20–0.25</div>
<div class="c d" style="left:882.50px;top:457.09px;width:75.20px;height:23.26px;justify-content:flex-start;padding-left:1.5px;">0.24–0.28</div>
<div class="c d" style="left:542.20px;top:480.34px;width:87.20px;height:23.26px;">0.18–0.24</div>
<div class="c d" style="left:629.40px;top:480.34px;width:88.00px;height:23.26px;">0.20–0.26</div>
<div class="c d" style="left:717.40px;top:480.34px;width:86.20px;height:23.26px;">0.22–0.28</div>
<div class="c d" style="left:803.60px;top:480.34px;width:78.90px;height:23.26px;">0.25–0.32</div>
<div class="c d" style="left:882.50px;top:480.34px;width:75.20px;height:23.26px;justify-content:flex-start;padding-left:1.5px;">0.30–0.38</div>
<div class="c d" style="left:542.20px;top:503.60px;width:87.20px;height:23.26px;">0.16–0.22</div>
<div class="c d" style="left:629.40px;top:503.60px;width:88.00px;height:23.26px;">0.18–0.24</div>
<div class="c d" style="left:717.40px;top:503.60px;width:86.20px;height:23.26px;">0.20–0.26</div>
<div class="c d" style="left:803.60px;top:503.60px;width:78.90px;height:23.26px;">0.22–0.28</div>
<div class="c d" style="left:882.50px;top:503.60px;width:75.20px;height:23.26px;justify-content:flex-start;padding-left:1.5px;">0.28–0.35</div>
<div class="c d" style="left:542.20px;top:526.86px;width:87.20px;height:23.26px;">0.20–0.28</div>
<div class="c d" style="left:629.40px;top:526.86px;width:88.00px;height:23.26px;">0.22–0.30</div>
<div class="c d" style="left:717.40px;top:526.86px;width:86.20px;height:23.26px;">0.25–0.32</div>
<div class="c d" style="left:803.60px;top:526.86px;width:78.90px;height:23.26px;">0.28–0.35</div>
<div class="c d" style="left:882.50px;top:526.86px;width:75.20px;height:23.26px;justify-content:flex-start;padding-left:1.5px;">0.32–0.40</div>
<div class="c d" style="left:542.20px;top:550.11px;width:87.20px;height:23.26px;">0.16–0.28</div>
<div class="c d" style="left:629.40px;top:550.11px;width:88.00px;height:23.26px;">0.18–0.30</div>
<div class="c d" style="left:717.40px;top:550.11px;width:86.20px;height:23.26px;">0.25–0.32</div>
<div class="c d" style="left:803.60px;top:550.11px;width:78.90px;height:23.26px;">0.28–0.35</div>
<div class="c d" style="left:882.50px;top:550.11px;width:75.20px;height:23.26px;justify-content:flex-start;padding-left:1.5px;">0.32–0.40</div>
<div class="c d" style="left:542.20px;top:573.37px;width:87.20px;height:23.26px;">0.22–0.32</div>
<div class="c d" style="left:629.40px;top:573.37px;width:88.00px;height:23.26px;">0.28–0.35</div>
<div class="c d" style="left:717.40px;top:573.37px;width:86.20px;height:23.26px;">0.30–0.38</div>
<div class="c d" style="left:803.60px;top:573.37px;width:78.90px;height:23.26px;">0.32–0.40</div>
<div class="c d" style="left:882.50px;top:573.37px;width:75.20px;height:23.26px;justify-content:flex-start;padding-left:1.5px;">0.38–0.45</div>
<div class="c d" style="left:542.20px;top:596.63px;width:87.20px;height:23.26px;">0.25–0.32</div>
<div class="c d" style="left:629.40px;top:596.63px;width:88.00px;height:23.26px;">0.28–0.35</div>
<div class="c d" style="left:717.40px;top:596.63px;width:86.20px;height:23.26px;">0.32–0.40</div>
<div class="c d" style="left:803.60px;top:596.63px;width:78.90px;height:23.26px;">0.35–0.45</div>
<div class="c d" style="left:882.50px;top:596.63px;width:75.20px;height:23.26px;justify-content:flex-start;padding-left:1.5px;">0.40–0.55</div>
<div class="c d" style="left:542.20px;top:619.89px;width:87.20px;height:23.26px;">0.15–0.20</div>
<div class="c d" style="left:629.40px;top:619.89px;width:88.00px;height:23.26px;">0.16–0.22</div>
<div class="c d" style="left:717.40px;top:619.89px;width:86.20px;height:23.26px;">0.18–0.24</div>
<div class="c d" style="left:803.60px;top:619.89px;width:78.90px;height:23.26px;">0.19–0.25</div>
<div class="c d" style="left:882.50px;top:619.89px;width:75.20px;height:23.26px;justify-content:flex-start;padding-left:1.5px;">0.22–0.28</div>
<div class="c d" style="left:542.20px;top:643.14px;width:87.20px;height:23.26px;">0.12–0.16</div>
<div class="c d" style="left:629.40px;top:643.14px;width:88.00px;height:23.26px;">0.14–0.18</div>
<div class="c d" style="left:717.40px;top:643.14px;width:86.20px;height:23.26px;">0.15–0.20</div>
<div class="c d" style="left:803.60px;top:643.14px;width:78.90px;height:23.26px;">0.16–0.22</div>
<div class="c d" style="left:882.50px;top:643.14px;width:75.20px;height:23.26px;justify-content:flex-start;padding-left:1.5px;">0.18–0.25</div>
<svg class="abs" style="left:0;top:0" width="1000" height="707" viewBox="0 0 1000 707">
<line class="ln" x1="542.20" y1="105.28" x2="957.70" y2="105.28"/>
<line class="ln" x1="542.20" y1="140.58" x2="957.70" y2="140.58"/>
<line class="ln" x1="542.20" y1="178.28" x2="957.70" y2="178.28"/>
<line class="lr" x1="542.20" y1="201.54" x2="957.70" y2="201.54"/>
<line class="lr" x1="542.20" y1="224.79" x2="957.70" y2="224.79"/>
<line class="lr" x1="542.20" y1="248.05" x2="957.70" y2="248.05"/>
<line class="lr" x1="542.20" y1="271.31" x2="957.70" y2="271.31"/>
<line class="lr" x1="542.20" y1="294.57" x2="957.70" y2="294.57"/>
<line class="lr" x1="542.20" y1="317.82" x2="957.70" y2="317.82"/>
<line class="lr" x1="542.20" y1="341.08" x2="957.70" y2="341.08"/>
<line class="lr" x1="542.20" y1="364.34" x2="957.70" y2="364.34"/>
<line class="lr" x1="542.20" y1="387.59" x2="957.70" y2="387.59"/>
<line class="lr" x1="542.20" y1="410.85" x2="957.70" y2="410.85"/>
<line class="lr" x1="542.20" y1="434.11" x2="957.70" y2="434.11"/>
<line class="lr" x1="542.20" y1="457.37" x2="957.70" y2="457.37"/>
<line class="lr" x1="542.20" y1="480.62" x2="957.70" y2="480.62"/>
<line class="lr" x1="542.20" y1="503.88" x2="957.70" y2="503.88"/>
<line class="lr" x1="542.20" y1="527.14" x2="957.70" y2="527.14"/>
<line class="lr" x1="542.20" y1="550.39" x2="957.70" y2="550.39"/>
<line class="lr" x1="542.20" y1="573.65" x2="957.70" y2="573.65"/>
<line class="lr" x1="542.20" y1="596.91" x2="957.70" y2="596.91"/>
<line class="lr" x1="542.20" y1="620.17" x2="957.70" y2="620.17"/>
<line class="lr" x1="542.20" y1="643.42" x2="957.70" y2="643.42"/>
<line class="lr" x1="542.20" y1="666.68" x2="957.70" y2="666.68"/>
<line class="ln" x1="542.50" y1="105.00" x2="542.50" y2="178.00"/>
<line class="lr" x1="542.50" y1="178.00" x2="542.50" y2="666.40"/>
<line class="ln" x1="629.70" y1="105.00" x2="629.70" y2="178.00"/>
<line class="lr" x1="629.70" y1="178.00" x2="629.70" y2="666.40"/>
<line class="ln" x1="717.70" y1="105.00" x2="717.70" y2="178.00"/>
<line class="lr" x1="717.70" y1="178.00" x2="717.70" y2="666.40"/>
<line class="ln" x1="803.90" y1="105.00" x2="803.90" y2="178.00"/>
<line class="lr" x1="803.90" y1="178.00" x2="803.90" y2="666.40"/>
<line class="ln" x1="882.80" y1="105.00" x2="882.80" y2="178.00"/>
<line class="lr" x1="882.80" y1="178.00" x2="882.80" y2="666.40"/>
<line class="ln" x1="958.00" y1="105.00" x2="958.00" y2="178.00"/>
<line class="lr" x1="958.00" y1="178.00" x2="958.00" y2="666.40"/>
</svg>
</div></body></html>
